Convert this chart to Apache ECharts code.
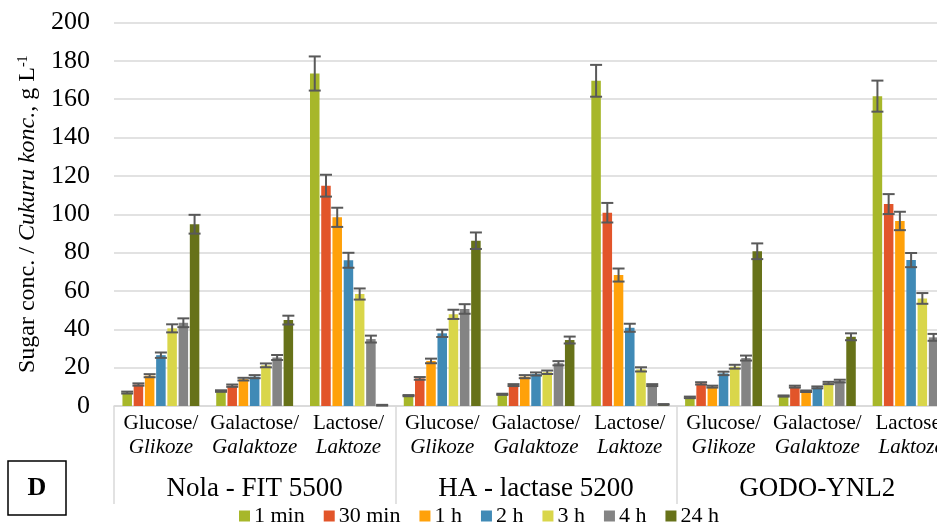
<!DOCTYPE html>
<html>
<head>
<meta charset="utf-8">
<script src="https://cdn.jsdelivr.net/npm/echarts@6/dist/echarts.min.js"></script>
<style>
  html, body { margin: 0; padding: 0; background: #fff; overflow: hidden; width: 937px; height: 526px; }
  /* the plot runs a little past the right edge of the page, as in the printed figure */
  #chart { width: 958px; height: 526px; }
</style>
</head>
<body>
<div id="chart"></div>
<script>
// Sugar concentrations (g/L) during lactose hydrolysis by three enzymes
const enzymes = ['Nola - FIT 5500', 'HA - lactase 5200', 'GODO-YNL2'];
const sugarsEn = ['Glucose/', 'Galactose/', 'Lactose/'];
const sugarsLv = ['Glikoze', 'Galaktoze', 'Laktoze'];
const times = ['1 min', '30 min', '1 h', '2 h', '3 h', '4 h', '24 h'];
const colors = ['#a7b72a', '#e2552a', '#ffa10a', '#408ab6', '#d9d64a', '#848484', '#677219'];

// values per time point, ordered: Nola (Glc, Gal, Lac), HA (Glc, Gal, Lac), GODO (Glc, Gal, Lac)
const v1min  = [7.0, 7.8, 173.4, 5.4, 6.1, 169.6, 4.5, 5.2, 161.6];
const v30min = [11.2, 10.6, 114.9, 14.4, 10.9, 100.8, 11.8, 10.1, 105.3];
const v1h    = [15.8, 14.0, 98.4, 23.5, 15.3, 68.3, 10.1, 7.7, 96.5];
const v2h    = [26.5, 15.3, 76.0, 37.9, 16.7, 40.8, 17.0, 9.7, 76.1];
const v3h    = [40.5, 21.2, 58.4, 47.8, 17.6, 19.1, 20.5, 12.0, 56.1];
const v4h    = [43.4, 25.3, 34.9, 50.6, 22.3, 10.9, 25.0, 13.0, 35.8];
const v24h   = [94.8, 44.8, 0.4, 86.2, 34.4, 0.8, 80.7, 36.1, 0.8];

// standard deviations, same order
const e1min  = [0.5, 0.4, 8.9, 0.3, 0.3, 8.3, 0.4, 0.3, 8.1];
const e30min = [0.6, 0.6, 5.7, 0.7, 0.5, 5.1, 0.6, 0.5, 5.2];
const e1h    = [0.8, 0.7, 5.0, 1.2, 0.8, 3.4, 0.5, 0.4, 4.8];
const e2h    = [1.4, 0.8, 3.9, 1.9, 0.8, 2.1, 0.9, 0.5, 3.7];
const e3h    = [2.1, 1.0, 2.9, 2.4, 0.9, 1.1, 1.0, 0.6, 2.8];
const e4h    = [2.3, 1.3, 1.8, 2.5, 1.1, 0.5, 1.3, 0.7, 1.8];
const e24h   = [4.9, 2.3, 0.2, 4.3, 1.8, 0.2, 4.1, 1.8, 0.2];

const yTicks = { min: 0, max: 200, interval: 20 };

const values = [v1min, v30min, v1h, v2h, v3h, v4h, v24h];
const errors = [e1min, e30min, e1h, e2h, e3h, e4h, e24h];

const categories = [];
enzymes.forEach(() => sugarsEn.forEach((s, i) => categories.push(s + '|' + sugarsLv[i])));

const SERIF = "'Liberation Serif', 'Times New Roman', serif";
const CAT_GAP = 0.18, BAR_GAP = 0.18;

const barSeries = times.map((t, si) => ({
  name: t,
  type: 'bar',
  data: values[si],
  itemStyle: { color: colors[si] },
  barCategoryGap: (CAT_GAP * 100) + '%',
  barGap: (BAR_GAP * 100) + '%',
  emphasis: { disabled: true }
}));

const errData = [];
values.forEach((arr, si) => arr.forEach((v, ci) => errData.push([ci, v, errors[si][ci], si])));

// error bars placed at the centre of each bar, using the same layout rule as the bar series
const errSeries = {
  type: 'custom',
  name: 'sd',
  data: errData,
  encode: { x: 0, y: 1 },
  z: 5,
  silent: true,
  renderItem: function (params, api) {
    const ci = api.value(0), v = api.value(1), e = api.value(2), si = api.value(3);
    const n = times.length;
    const band = api.size([1, 0])[0];
    const bw = band * (1 - CAT_GAP) / (n + (n - 1) * BAR_GAP);
    const total = n * bw + (n - 1) * BAR_GAP * bw;
    const off = -total / 2 + si * bw * (1 + BAR_GAP) + bw / 2;
    const top = api.coord([ci, v + e]);
    const bot = api.coord([ci, Math.max(v - e, 0)]);
    const x = top[0] + off;
    const hw = 6;
    const st = { stroke: '#595959', lineWidth: 2 };
    return {
      type: 'group',
      children: [
        { type: 'line', shape: { x1: x, y1: top[1], x2: x, y2: bot[1] }, style: st },
        { type: 'line', shape: { x1: x - hw, y1: top[1], x2: x + hw, y2: top[1] }, style: st },
        { type: 'line', shape: { x1: x - hw, y1: bot[1], x2: x + hw, y2: bot[1] }, style: st }
      ]
    };
  }
};

const chart = echarts.init(document.getElementById('chart'), null, { renderer: 'canvas' });
chart.setOption({
  animation: false,
  backgroundColor: '#fff',
  textStyle: { fontFamily: SERIF },
  grid: { left: 114, right: 0, top: 22.5, bottom: 120, containLabel: false },
  legend: {
    data: times,
    left: 234,
    top: 500,
    icon: 'rect',
    itemWidth: 11,
    itemHeight: 11,
    itemGap: 19,
    textStyle: { fontFamily: SERIF, fontSize: 22, color: '#000', padding: [0, 0, 0, -1] }
  },
  xAxis: [
    {
      type: 'category',
      data: categories,
      position: 'bottom',
      axisLine: { show: true, lineStyle: { color: '#d9d9d9', width: 1.5 } },
      axisTick: { show: false },
      axisLabel: {
        interval: 0,
        margin: 5,
        formatter: function (val) {
          const p = val.split('|');
          return '{a|' + p[0] + '}\n{b|' + p[1] + '}';
        },
        rich: {
          a: { fontFamily: SERIF, fontSize: 21, color: '#000', lineHeight: 24 },
          b: { fontFamily: SERIF, fontSize: 21, fontStyle: 'italic', color: '#000', lineHeight: 24 }
        }
      }
    },
    {
      type: 'category',
      data: enzymes,
      position: 'bottom',
      axisLine: { show: false },
      axisTick: { show: true, length: 98, lineStyle: { color: '#d9d9d9', width: 1.5 } },
      axisLabel: { margin: 69, fontFamily: SERIF, fontSize: 27, color: '#000' },
      splitLine: { show: false }
    }
  ],
  yAxis: {
    type: 'value',
    min: yTicks.min,
    max: yTicks.max,
    interval: yTicks.interval,
    axisLine: { show: false },
    axisTick: { show: false },
    splitLine: { lineStyle: { color: '#d9d9d9', width: 1.5 } },
    axisLabel: { margin: 24, fontFamily: SERIF, fontSize: 26, color: '#000' },
    name: 'Sugar conc. / {i|Cukuru konc.}, g L{s|-1}',
    nameLocation: 'middle',
    nameGap: 71,
    nameTextStyle: {
      fontFamily: SERIF, fontSize: 24, color: '#000',
      rich: {
        i: { fontFamily: SERIF, fontSize: 24, fontStyle: 'italic', color: '#000' },
        s: { fontFamily: SERIF, fontSize: 14, color: '#000', verticalAlign: 'top', padding: [0, 0, 10, 0] }
      }
    }
  },
  graphic: [
    {
      type: 'rect',
      shape: { x: 8, y: 461, width: 58, height: 54 },
      style: { fill: '#fff', stroke: '#000', lineWidth: 1.5 }
    },
    {
      type: 'text',
      x: 37, y: 488,
      style: {
        text: 'D', fontFamily: SERIF, fontWeight: 'bold', fontSize: 26,
        fill: '#000', align: 'center', verticalAlign: 'middle'
      }
    }
  ],
  series: barSeries.concat([errSeries])
});
</script>
</body>
</html>
